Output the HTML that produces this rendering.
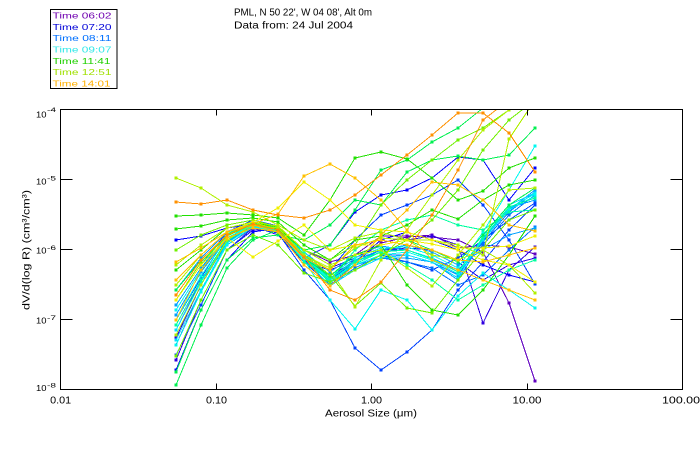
<!DOCTYPE html>
<html>
<head>
<meta charset="utf-8">
<style>
  html,body{margin:0;padding:0;background:#fff;}
  svg{display:block;}
  text{font-family:"Liberation Sans",sans-serif;}
  .s{fill:none;stroke-width:1;shape-rendering:crispEdges;}
  .k1{stroke:#6000c0;marker:url(#m1)}
  .k2{stroke:#3000e0;marker:url(#m2)}
  .k3{stroke:#0000ff;marker:url(#m3)}
  .k4{stroke:#0040ff;marker:url(#m4)}
  .k5{stroke:#0070ff;marker:url(#m5)}
  .k6{stroke:#00a0ff;marker:url(#m6)}
  .k7{stroke:#00e0ff;marker:url(#m7)}
  .k8{stroke:#00f8f0;marker:url(#m8)}
  .k9{stroke:#00ffa0;marker:url(#m9)}
  .k10{stroke:#00f050;marker:url(#m10)}
  .k11{stroke:#20e000;marker:url(#m11)}
  .k12{stroke:#70f000;marker:url(#m12)}
  .k13{stroke:#b0f000;marker:url(#m13)}
  .k14{stroke:#f0f000;marker:url(#m14)}
  .k15{stroke:#ffc000;marker:url(#m15)}
  .k16{stroke:#ff9000;marker:url(#m16)}
</style>
</head>
<body>
<svg width="700" height="450" viewBox="0 0 700 450" xmlns="http://www.w3.org/2000/svg">
  <defs>
    <clipPath id="cp"><rect x="61" y="110" width="621" height="279"/></clipPath>
    <marker id="m1" viewBox="0 0 3 3" markerWidth="3" markerHeight="3" refX="1.5" refY="1.5" markerUnits="userSpaceOnUse"><rect width="3" height="3" fill="#6000c0"/></marker>
    <marker id="m2" viewBox="0 0 3 3" markerWidth="3" markerHeight="3" refX="1.5" refY="1.5" markerUnits="userSpaceOnUse"><rect width="3" height="3" fill="#3000e0"/></marker>
    <marker id="m3" viewBox="0 0 3 3" markerWidth="3" markerHeight="3" refX="1.5" refY="1.5" markerUnits="userSpaceOnUse"><rect width="3" height="3" fill="#0000ff"/></marker>
    <marker id="m4" viewBox="0 0 3 3" markerWidth="3" markerHeight="3" refX="1.5" refY="1.5" markerUnits="userSpaceOnUse"><rect width="3" height="3" fill="#0040ff"/></marker>
    <marker id="m5" viewBox="0 0 3 3" markerWidth="3" markerHeight="3" refX="1.5" refY="1.5" markerUnits="userSpaceOnUse"><rect width="3" height="3" fill="#0070ff"/></marker>
    <marker id="m6" viewBox="0 0 3 3" markerWidth="3" markerHeight="3" refX="1.5" refY="1.5" markerUnits="userSpaceOnUse"><rect width="3" height="3" fill="#00a0ff"/></marker>
    <marker id="m7" viewBox="0 0 3 3" markerWidth="3" markerHeight="3" refX="1.5" refY="1.5" markerUnits="userSpaceOnUse"><rect width="3" height="3" fill="#00e0ff"/></marker>
    <marker id="m8" viewBox="0 0 3 3" markerWidth="3" markerHeight="3" refX="1.5" refY="1.5" markerUnits="userSpaceOnUse"><rect width="3" height="3" fill="#00f8f0"/></marker>
    <marker id="m9" viewBox="0 0 3 3" markerWidth="3" markerHeight="3" refX="1.5" refY="1.5" markerUnits="userSpaceOnUse"><rect width="3" height="3" fill="#00ffa0"/></marker>
    <marker id="m10" viewBox="0 0 3 3" markerWidth="3" markerHeight="3" refX="1.5" refY="1.5" markerUnits="userSpaceOnUse"><rect width="3" height="3" fill="#00f050"/></marker>
    <marker id="m11" viewBox="0 0 3 3" markerWidth="3" markerHeight="3" refX="1.5" refY="1.5" markerUnits="userSpaceOnUse"><rect width="3" height="3" fill="#20e000"/></marker>
    <marker id="m12" viewBox="0 0 3 3" markerWidth="3" markerHeight="3" refX="1.5" refY="1.5" markerUnits="userSpaceOnUse"><rect width="3" height="3" fill="#70f000"/></marker>
    <marker id="m13" viewBox="0 0 3 3" markerWidth="3" markerHeight="3" refX="1.5" refY="1.5" markerUnits="userSpaceOnUse"><rect width="3" height="3" fill="#b0f000"/></marker>
    <marker id="m14" viewBox="0 0 3 3" markerWidth="3" markerHeight="3" refX="1.5" refY="1.5" markerUnits="userSpaceOnUse"><rect width="3" height="3" fill="#f0f000"/></marker>
    <marker id="m15" viewBox="0 0 3 3" markerWidth="3" markerHeight="3" refX="1.5" refY="1.5" markerUnits="userSpaceOnUse"><rect width="3" height="3" fill="#ffc000"/></marker>
    <marker id="m16" viewBox="0 0 3 3" markerWidth="3" markerHeight="3" refX="1.5" refY="1.5" markerUnits="userSpaceOnUse"><rect width="3" height="3" fill="#ff9000"/></marker>
  </defs>

  <rect x="50.5" y="9.5" width="66.5" height="79" fill="none" stroke="#000" stroke-width="1"/>
  <g font-size="8.5">
    <text x="52.5" y="18.5" fill="#7000b0" textLength="59" lengthAdjust="spacingAndGlyphs">Time 06:02</text>
    <text x="52.5" y="29.8" fill="#0000d8" textLength="59" lengthAdjust="spacingAndGlyphs">Time 07:20</text>
    <text x="52.5" y="41.2" fill="#0070ff" textLength="59" lengthAdjust="spacingAndGlyphs">Time 08:11</text>
    <text x="52.5" y="52.5" fill="#30e8e8" textLength="59" lengthAdjust="spacingAndGlyphs">Time 09:07</text>
    <text x="52.5" y="63.8" fill="#20d000" textLength="58" lengthAdjust="spacingAndGlyphs">Time 11:41</text>
    <text x="52.5" y="75.2" fill="#a0e000" textLength="59" lengthAdjust="spacingAndGlyphs">Time 12:51</text>
    <text x="52.5" y="86.5" fill="#ffb000" textLength="58" lengthAdjust="spacingAndGlyphs">Time 14:01</text>
  </g>

  <text x="234" y="15.7" font-size="10" fill="#000" textLength="138" lengthAdjust="spacingAndGlyphs">PML, N 50 22', W 04 08', Alt 0m</text>
  <text x="234" y="28.5" font-size="10" fill="#000" textLength="119" lengthAdjust="spacingAndGlyphs">Data from: 24 Jul 2004</text>

  <g clip-path="url(#cp)">
    <polyline class="s k1" points="176,345 201,290 227,245 253,228 278,232 304,258 330,275 355,262 381,243 407,237 432,235 458,248 483,245 509,247 535,254"/>
    <polyline class="s k1" points="176,330 201,280 227,240 253,225 278,228 304,250 330,262 355,255 381,236 407,236 432,237 458,240 483,252 509,303 535,381"/>
    <polyline class="s k2" points="176,360 201,300 227,250 253,230 278,230 304,255 330,268 355,258 381,245 407,240 432,236 458,245 483,323 509,270 535,247"/>
    <polyline class="s k2" points="176,338 201,285 227,238 253,226 278,235 304,262 330,270 355,260 381,250 407,248 432,250 458,262 483,280 509,265 535,258"/>
    <polyline class="s k3" points="176,370 201,310 227,260 253,232 278,228 304,260 330,280 355,262 381,240 407,232 432,240 458,250 483,265 509,275 535,282"/>
    <polyline class="s k3" points="176,240 201,236 227,228 253,224 278,230 304,258 330,245 355,212 381,195 407,190 432,178 458,157 483,160 509,200 535,168"/>
    <polyline class="s k4" points="176,300 201,265 227,232 253,220 278,226 304,255 330,270 355,240 381,215 407,205 432,195 458,180 483,205 509,240 535,284"/>
    <polyline class="s k4" points="176,320 201,278 227,236 253,224 278,232 304,262 330,285 355,265 381,255 407,262 432,270 458,258 483,240 509,220 535,203"/>
    <polyline class="s k4" points="176,355 201,305 227,250 253,228 278,233 304,270 330,300 355,348 381,370 407,352 432,330 458,290 483,262 509,230 535,205"/>
    <polyline class="s k5" points="176,310 201,270 227,235 253,222 278,228 304,255 330,278 355,265 381,258 407,262 432,268 458,285 483,275 509,250 535,227"/>
    <polyline class="s k5" points="176,325 201,280 227,240 253,225 278,230 304,258 330,282 355,262 381,250 407,250 432,258 458,270 483,245 509,215 535,195"/>
    <polyline class="s k5" points="176,335 201,285 227,242 253,226 278,230 304,260 330,285 355,268 381,255 407,255 432,262 458,275 483,242 509,212 535,192"/>
    <polyline class="s k6" points="176,315 201,272 227,238 253,224 278,228 304,255 330,278 355,260 381,250 407,245 432,252 458,265 483,250 509,235 535,228"/>
    <polyline class="s k6" points="176,290 201,258 227,232 253,222 278,228 304,252 330,272 355,255 381,246 407,250 432,258 458,272 483,238 509,210 535,190"/>
    <polyline class="s k6" points="176,305 201,268 227,236 253,223 278,229 304,256 330,280 355,265 381,258 407,258 432,262 458,280 483,240 509,208 535,200"/>
    <polyline class="s k7" points="176,330 201,282 227,240 253,224 278,228 304,255 330,282 355,262 381,252 407,250 432,258 458,272 483,240 509,210 535,196"/>
    <polyline class="s k7" points="176,340 201,290 227,243 253,226 278,230 304,258 330,286 355,270 381,258 407,255 432,262 458,278 483,236 509,205 535,193"/>
    <polyline class="s k8" points="176,320 201,276 227,238 253,224 278,229 304,256 330,280 355,265 381,255 407,252 432,260 458,274 483,238 509,208 535,194"/>
    <polyline class="s k8" points="176,345 201,292 227,245 253,227 278,231 304,260 330,300 355,329 381,290 407,300 432,330 458,296 483,273 509,290 535,308"/>
    <polyline class="s k8" points="176,310 201,270 227,236 253,223 278,227 304,252 330,276 355,258 381,248 407,247 432,255 458,268 483,232 509,190 535,146"/>
    <polyline class="s k9" points="176,335 201,285 227,241 253,225 278,230 304,257 330,283 355,264 381,252 407,250 432,259 458,272 483,238 509,207 535,198"/>
    <polyline class="s k9" points="176,300 201,265 227,234 253,222 278,228 304,254 330,279 355,261 381,252 407,265 432,280 458,300 483,285 509,270 535,260"/>
    <polyline class="s k9" points="176,325 201,280 227,240 253,225 278,230 304,262 330,280 355,250 381,230 407,220 432,215 458,225 483,230 509,212 535,210"/>
    <polyline class="s k10" points="176,290 201,260 227,235 253,223 278,229 304,258 330,276 355,255 381,245 407,240 432,250 458,262 483,235 509,205 535,188"/>
    <polyline class="s k10" points="176,385 201,325 227,268 253,240 278,230 304,250 330,245 355,210 381,170 407,160 432,142 458,128 483,108 509,100 535,95"/>
    <polyline class="s k10" points="176,372 201,310 227,260 253,238 278,235 304,240 330,225 355,200 381,205 407,172 432,160 458,156 483,160 509,155 535,128"/>
    <polyline class="s k11" points="176,216 201,215 227,213 253,215 278,218 304,235 330,200 355,158 381,152 407,159 432,178 458,200 483,191 509,168 535,158"/>
    <polyline class="s k11" points="176,229 201,226 227,220 253,218 278,222 304,245 330,260 355,240 381,236 407,225 432,210 458,219 483,200 509,185 535,180"/>
    <polyline class="s k11" points="176,270 201,250 227,228 253,222 278,228 304,250 330,265 355,255 381,245 407,285 432,310 458,315 483,290 509,255 535,216"/>
    <polyline class="s k12" points="176,300 201,262 227,236 253,224 278,228 304,255 330,275 355,306 381,283 407,308 432,313 458,280 483,250 509,220 535,210"/>
    <polyline class="s k12" points="176,356 201,300 227,250 253,235 278,245 304,273 330,282 355,270 381,255 407,240 432,220 458,190 483,150 509,120 535,100"/>
    <polyline class="s k12" points="176,250 201,235 227,225 253,220 278,227 304,250 330,260 355,245 381,205 407,180 432,160 458,140 483,128 509,110 535,90"/>
    <polyline class="s k13" points="176,178 201,188 227,205 253,212 278,225 304,240 330,250 355,238 381,232 407,240 432,255 458,260 483,250 509,265 535,293"/>
    <polyline class="s k13" points="176,285 201,255 227,232 253,222 278,226 304,250 330,265 355,255 381,250 407,268 432,286 458,255 483,225 509,190 535,188"/>
    <polyline class="s k13" points="176,335 201,285 227,240 253,225 278,228 304,255 330,270 355,307 381,260 407,230 432,195 458,160 483,130 509,110 535,100"/>
    <polyline class="s k13" points="176,265 201,245 227,228 253,222 278,230 304,255 330,268 355,248 381,238 407,240 432,240 458,245 483,255 509,139 535,100"/>
    <polyline class="s k14" points="176,300 201,265 227,238 253,257 278,241 304,225 330,250 355,245 381,245 407,240 432,244 458,250 483,260 509,265 535,282"/>
    <polyline class="s k14" points="176,280 201,255 227,232 253,222 278,208 304,182 330,200 355,225 381,230 407,232 432,240 458,248 483,248 509,246 535,236"/>
    <polyline class="s k15" points="176,320 201,270 227,238 253,228 278,232 304,258 330,270 355,245 381,240 407,245 432,250 458,260 483,262 509,255 535,248"/>
    <polyline class="s k15" points="176,262 201,248 227,232 253,224 278,214 304,176 330,164 355,178 381,200 407,230 432,260 458,270 483,280 509,290 535,300"/>
    <polyline class="s k15" points="176,280 201,255 227,232 253,225 278,232 304,265 330,286 355,265 381,235 407,210 432,182 458,185 483,200 509,225 535,231"/>
    <polyline class="s k16" points="176,295 201,260 227,235 253,224 278,230 304,257 330,290 355,300 381,282 407,250 432,215 458,170 483,120 509,100 535,95"/>
    <polyline class="s k16" points="176,202 201,204 227,200 253,210 278,215 304,218 330,210 355,195 381,175 407,155 432,135 458,113 483,113 509,133 535,172"/>
  </g>

  <rect x="60.5" y="109.5" width="622" height="280" fill="none" stroke="#000" stroke-width="1"/>
  <g stroke="#000" stroke-width="1" shape-rendering="crispEdges">
    <line x1="60.5" y1="179.5" x2="72.5" y2="179.5"/>
    <line x1="60.5" y1="249.5" x2="72.5" y2="249.5"/>
    <line x1="60.5" y1="319.5" x2="72.5" y2="319.5"/>
    <line x1="670.5" y1="179.5" x2="682.5" y2="179.5"/>
    <line x1="670.5" y1="249.5" x2="682.5" y2="249.5"/>
    <line x1="670.5" y1="319.5" x2="682.5" y2="319.5"/>
    <line x1="216.5" y1="389.5" x2="216.5" y2="383.5"/>
    <line x1="371.5" y1="389.5" x2="371.5" y2="383.5"/>
    <line x1="527.5" y1="389.5" x2="527.5" y2="383.5"/>
    <line x1="216.5" y1="109.5" x2="216.5" y2="115.5"/>
    <line x1="371.5" y1="109.5" x2="371.5" y2="115.5"/>
    <line x1="527.5" y1="109.5" x2="527.5" y2="115.5"/>
  </g>

  <g fill="#000">
    <text x="36" y="117.7" font-size="8.5" textLength="10.5" lengthAdjust="spacingAndGlyphs">10</text>
    <text x="47" y="112" font-size="6" textLength="9" lengthAdjust="spacingAndGlyphs">-4</text>
    <text x="36" y="184.3" font-size="8.5" textLength="10.5" lengthAdjust="spacingAndGlyphs">10</text>
    <text x="47" y="180.5" font-size="6" textLength="9" lengthAdjust="spacingAndGlyphs">-5</text>
    <text x="36" y="253.7" font-size="8.5" textLength="10.5" lengthAdjust="spacingAndGlyphs">10</text>
    <text x="47" y="250" font-size="6" textLength="9" lengthAdjust="spacingAndGlyphs">-6</text>
    <text x="36" y="323.7" font-size="8.5" textLength="10.5" lengthAdjust="spacingAndGlyphs">10</text>
    <text x="47" y="320" font-size="6" textLength="9" lengthAdjust="spacingAndGlyphs">-7</text>
    <text x="36" y="391" font-size="8.5" textLength="10.5" lengthAdjust="spacingAndGlyphs">10</text>
    <text x="47" y="387.5" font-size="6" textLength="9" lengthAdjust="spacingAndGlyphs">-8</text>
  </g>

  <g fill="#000" font-size="10.5" text-anchor="middle">
    <text x="60.7" y="403.3" textLength="21" lengthAdjust="spacingAndGlyphs">0.01</text>
    <text x="216.5" y="403.3" textLength="21" lengthAdjust="spacingAndGlyphs">0.10</text>
    <text x="371.5" y="403.3" textLength="21" lengthAdjust="spacingAndGlyphs">1.00</text>
    <text x="527" y="403.3" textLength="29" lengthAdjust="spacingAndGlyphs">10.00</text>
    <text x="681" y="403.3" textLength="38" lengthAdjust="spacingAndGlyphs">100.00</text>
  </g>

  <text x="371" y="416.5" font-size="10.5" fill="#000" text-anchor="middle" textLength="92" lengthAdjust="spacingAndGlyphs">Aerosol Size (μm)</text>
  <text transform="translate(29.5,250) rotate(-90)" x="0" y="0" font-size="10.5" fill="#000" text-anchor="middle" textLength="120" lengthAdjust="spacingAndGlyphs">dV/d(log R)  (cm³/cm³)</text>
</svg>
</body>
</html>
